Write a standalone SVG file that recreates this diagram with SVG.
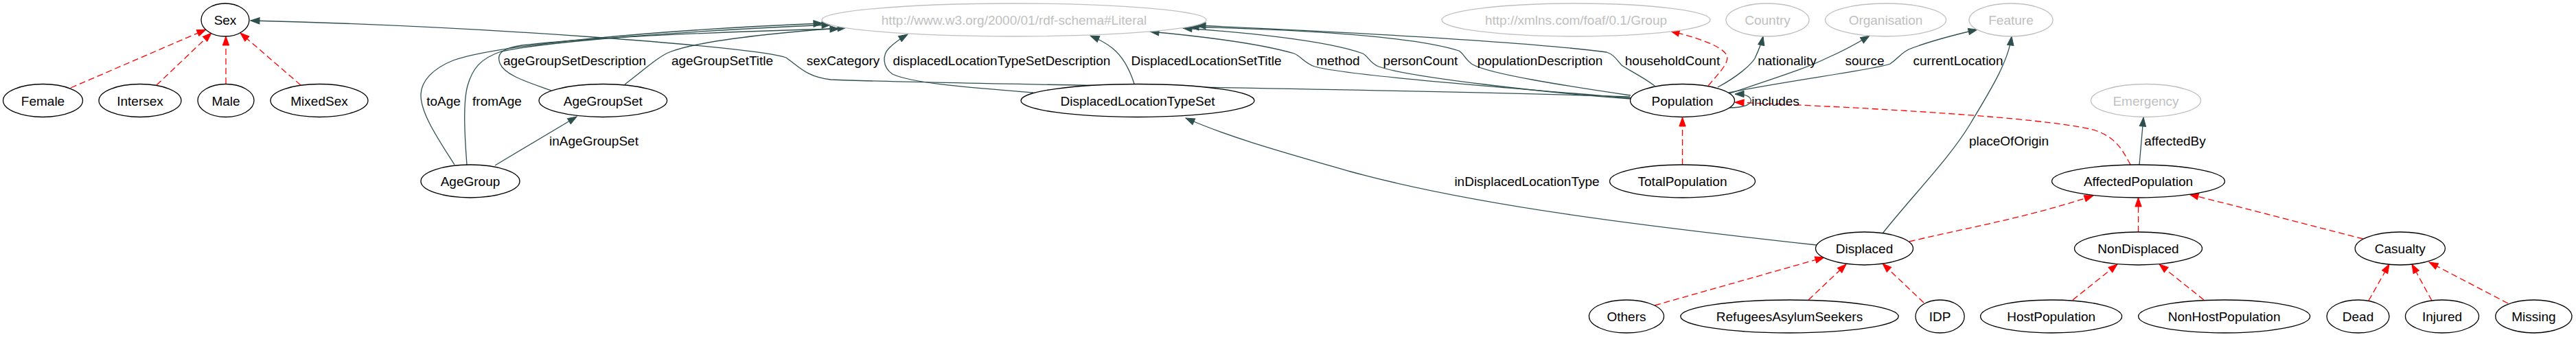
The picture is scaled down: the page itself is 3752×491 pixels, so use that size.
<svg xmlns="http://www.w3.org/2000/svg" width="3752" height="491" viewBox="0 0 3752 491">
<style>
  .n ellipse { fill: #ffffff; stroke: #000000; stroke-width: 1.3; }
  .g ellipse { fill: #ffffff; stroke: #c0c0c0; stroke-width: 1.3; }
  text { font-family: "Liberation Sans", Arial, sans-serif; font-size: 19px; text-anchor: middle; }
  .n text { fill: #000000; }
  .g text { fill: #c0c0c0; }
  .e { fill: none; stroke: #2f4f4f; stroke-width: 1.3; marker-end: url(#ad); }
  .s { fill: none; stroke: #ff0000; stroke-width: 1.3; stroke-dasharray: 9 5; marker-end: url(#ar); }
  .lbl { fill: #000000; }
</style>
<defs>
  <marker id="ad" markerUnits="userSpaceOnUse" markerWidth="15" markerHeight="11" refX="14" refY="5.5" orient="auto" viewBox="0 0 15 11">
    <path d="M1,0.8 L14,5.5 L1,10.2 z" fill="#2f4f4f" stroke="#2f4f4f" stroke-width="1"/>
  </marker>
  <marker id="ar" markerUnits="userSpaceOnUse" markerWidth="15" markerHeight="11" refX="14" refY="5.5" orient="auto" viewBox="0 0 15 11">
    <path d="M1,0.8 L14,5.5 L1,10.2 z" fill="#ff0000" stroke="#ff0000" stroke-width="1"/>
  </marker>
</defs>
<rect width="3752" height="491" fill="#ffffff"/>

<g id="connectors">
  <!-- subclass edges -->
  <path class="s" d="M103,128 L300,43"/>
  <path class="s" d="M228,124 L308,48"/>
  <path class="s" d="M329,122 L329,53"/>
  <path class="s" d="M438,124 L350,48"/>
  <path class="s" d="M2488,125 C2505,105 2520,90 2515,80 C2505,65 2470,55 2433,45"/>
  <path class="s" d="M2450.5,240 L2450.5,171"/>
  <path class="s" d="M3103,240 C3090,215 3080,200 3052,190 C3000,175 2800,160 2527,149"/>
  <path class="s" d="M2781,352 C2850,335 2950,318 3049,285"/>
  <path class="s" d="M3114.5,338 L3114.5,288"/>
  <path class="s" d="M3442,348 L3189,283"/>
  <path class="s" d="M2410,445 L2657,375"/>
  <path class="s" d="M2634,437 L2689,385"/>
  <path class="s" d="M2802,441 L2742,384"/>
  <path class="s" d="M3019,437 L3084,385"/>
  <path class="s" d="M3210,437 L3145,385"/>
  <path class="s" d="M3450,438 L3480,385"/>
  <path class="s" d="M3542,438 L3513,385"/>
  <path class="s" d="M3653,442 L3538,382"/>

  <!-- property edges -->
  <path class="e" d="M2374,141 C2000,128 1400,124 1210,116 C1175,112 1165,98 1145,84 C1100,68 700,38 365,30"/>
  <path class="e" d="M662,240 C640,205 612,165 613,137 C614,118 630,100 660,88 C720,66 950,44 1198,34"/>
  <path class="e" d="M680,240 C677,200 674,150 681,125 C688,100 700,85 730,75 C800,60 1000,45 1210,36"/>
  <path class="e" d="M803,132 C770,120 735,110 728,92 C722,76 735,70 760,66 C850,55 1050,46 1222,42"/>
  <path class="e" d="M910,123 C940,100 960,82 975,76 C1010,62 1100,50 1233,40"/>
  <path class="e" d="M721,241 L840,170"/>
  <path class="e" d="M1505,135 C1420,128 1330,122 1300,108 C1285,98 1285,80 1295,70 C1303,62 1312,56 1322,50"/>
  <path class="e" d="M1652,122 C1645,100 1635,82 1620,70 C1610,62 1600,57 1588,52"/>
  <path class="e" d="M2375,143 C2200,128 1960,110 1915,97 C1900,92 1895,82 1885,78 C1830,62 1740,52 1675,46"/>
  <path class="e" d="M2375,144 C2250,135 2050,112 2008,97 C1995,92 1993,82 1985,78 C1930,58 1800,46 1723,41"/>
  <path class="e" d="M2375,139 C2280,125 2170,108 2145,94 C2135,88 2132,78 2125,74 C2050,50 1850,42 1733,39"/>
  <path class="e" d="M2410,125 C2390,110 2368,100 2362,95 C2355,88 2352,80 2340,76 C2200,58 1900,44 1743,37"/>
  <path class="e" d="M2502,127 C2530,112 2550,95 2556,85 C2562,72 2566,62 2568,53"/>
  <path class="e" d="M2517,137 C2580,115 2630,100 2660,85 C2690,72 2710,60 2723,52"/>
  <path class="e" d="M2518,135 C2600,118 2740,100 2753,93 C2765,85 2768,78 2780,72 C2810,60 2850,50 2880,43"/>
  <path class="e" d="M2518,157 C2545,157 2552,150 2550,145 C2548,139 2540,137 2527,137"/>
  <path class="e" d="M2742,340 C2790,280 2840,230 2870,180 C2900,130 2925,90 2930,53"/>
  <path class="e" d="M2646,357 C2400,330 2150,300 1967,250 C1870,222 1790,200 1727,172"/>
  <path class="e" d="M3116,240 L3122,171"/>

  <!-- edge labels -->
  <text class="lbl" x="646" y="154">toAge</text>
  <text class="lbl" x="724" y="154">fromAge</text>
  <text class="lbl" x="837" y="95">ageGroupSetDescription</text>
  <text class="lbl" x="1052" y="95">ageGroupSetTitle</text>
  <text class="lbl" x="1228" y="95">sexCategory</text>
  <text class="lbl" x="1459" y="95">displacedLocationTypeSetDescription</text>
  <text class="lbl" x="1757" y="95">DisplacedLocationSetTitle</text>
  <text class="lbl" x="1949" y="95">method</text>
  <text class="lbl" x="2069" y="95">personCount</text>
  <text class="lbl" x="2243" y="95">populationDescription</text>
  <text class="lbl" x="2436" y="95">householdCount</text>
  <text class="lbl" x="2603" y="95">nationality</text>
  <text class="lbl" x="2716" y="95">source</text>
  <text class="lbl" x="2852" y="95">currentLocation</text>
  <text class="lbl" x="2586" y="154">includes</text>
  <text class="lbl" x="865" y="212">inAgeGroupSet</text>
  <text class="lbl" x="2926" y="212">placeOfOrigin</text>
  <text class="lbl" x="3168" y="212">affectedBy</text>
  <text class="lbl" x="2224" y="271">inDisplacedLocationType</text>
</g>

<!-- row 1 -->
<g id="node-Sex" class="n"><ellipse cx="328" cy="29" rx="35" ry="24"/><text x="328" y="36">Sex</text></g>
<g id="node-Literal" class="g"><ellipse cx="1477" cy="29" rx="280" ry="24"/><text x="1477" y="36">http://www.w3.org/2000/01/rdf-schema#Literal</text></g>
<g id="node-Group" class="g"><ellipse cx="2295.5" cy="29" rx="195.5" ry="24"/><text x="2295.5" y="36">http://xmlns.com/foaf/0.1/Group</text></g>
<g id="node-Country" class="g"><ellipse cx="2574.5" cy="29" rx="60.5" ry="24"/><text x="2574.5" y="36">Country</text></g>
<g id="node-Organisation" class="g"><ellipse cx="2746.5" cy="29" rx="88" ry="24"/><text x="2746.5" y="36">Organisation</text></g>
<g id="node-Feature" class="g"><ellipse cx="2929" cy="29" rx="61" ry="24"/><text x="2929" y="36">Feature</text></g>

<!-- row 2 -->
<g id="node-Female" class="n"><ellipse cx="62.5" cy="146.5" rx="58" ry="24"/><text x="62.5" y="153.5">Female</text></g>
<g id="node-Intersex" class="n"><ellipse cx="204" cy="146.5" rx="60" ry="24"/><text x="204" y="153.5">Intersex</text></g>
<g id="node-Male" class="n"><ellipse cx="329" cy="146.5" rx="41" ry="24"/><text x="329" y="153.5">Male</text></g>
<g id="node-MixedSex" class="n"><ellipse cx="465" cy="146.5" rx="71" ry="24"/><text x="465" y="153.5">MixedSex</text></g>
<g id="node-AgeGroupSet" class="n"><ellipse cx="878.3" cy="146.5" rx="93.3" ry="24"/><text x="878.3" y="153.5">AgeGroupSet</text></g>
<g id="node-DisplacedLocationTypeSet" class="n"><ellipse cx="1657" cy="146.5" rx="170" ry="24"/><text x="1657" y="153.5">DisplacedLocationTypeSet</text></g>
<g id="node-Population" class="n"><ellipse cx="2450.5" cy="146.5" rx="76" ry="24"/><text x="2450.5" y="153.5">Population</text></g>
<g id="node-Emergency" class="g"><ellipse cx="3125.5" cy="146.5" rx="80" ry="24"/><text x="3125.5" y="153.5">Emergency</text></g>

<!-- row 3 -->
<g id="node-AgeGroup" class="n"><ellipse cx="685" cy="264" rx="72" ry="24"/><text x="685" y="271">AgeGroup</text></g>
<g id="node-TotalPopulation" class="n"><ellipse cx="2450.5" cy="264" rx="106" ry="24"/><text x="2450.5" y="271">TotalPopulation</text></g>
<g id="node-AffectedPopulation" class="n"><ellipse cx="3114.5" cy="264" rx="126" ry="24"/><text x="3114.5" y="271">AffectedPopulation</text></g>

<!-- row 4 -->
<g id="node-Displaced" class="n"><ellipse cx="2715.5" cy="362" rx="71" ry="24"/><text x="2715.5" y="369">Displaced</text></g>
<g id="node-NonDisplaced" class="n"><ellipse cx="3114.5" cy="362" rx="93" ry="24"/><text x="3114.5" y="369">NonDisplaced</text></g>
<g id="node-Casualty" class="n"><ellipse cx="3495.8" cy="362" rx="65.6" ry="24"/><text x="3495.8" y="369">Casualty</text></g>

<!-- row 5 -->
<g id="node-Others" class="n"><ellipse cx="2369" cy="461" rx="54.5" ry="24"/><text x="2369" y="468">Others</text></g>
<g id="node-RefugeesAsylumSeekers" class="n"><ellipse cx="2606.5" cy="461" rx="158.7" ry="24"/><text x="2606.5" y="468">RefugeesAsylumSeekers</text></g>
<g id="node-IDP" class="n"><ellipse cx="2825.6" cy="461" rx="35.6" ry="24"/><text x="2825.6" y="468">IDP</text></g>
<g id="node-HostPopulation" class="n"><ellipse cx="2987.6" cy="461" rx="103" ry="24"/><text x="2987.6" y="468">HostPopulation</text></g>
<g id="node-NonHostPopulation" class="n"><ellipse cx="3239.6" cy="461" rx="125" ry="24"/><text x="3239.6" y="468">NonHostPopulation</text></g>
<g id="node-Dead" class="n"><ellipse cx="3434.5" cy="461" rx="45.5" ry="24"/><text x="3434.5" y="468">Dead</text></g>
<g id="node-Injured" class="n"><ellipse cx="3557" cy="461" rx="53.5" ry="24"/><text x="3557" y="468">Injured</text></g>
<g id="node-Missing" class="n"><ellipse cx="3690.4" cy="461" rx="55.6" ry="24"/><text x="3690.4" y="468">Missing</text></g>
</svg>
